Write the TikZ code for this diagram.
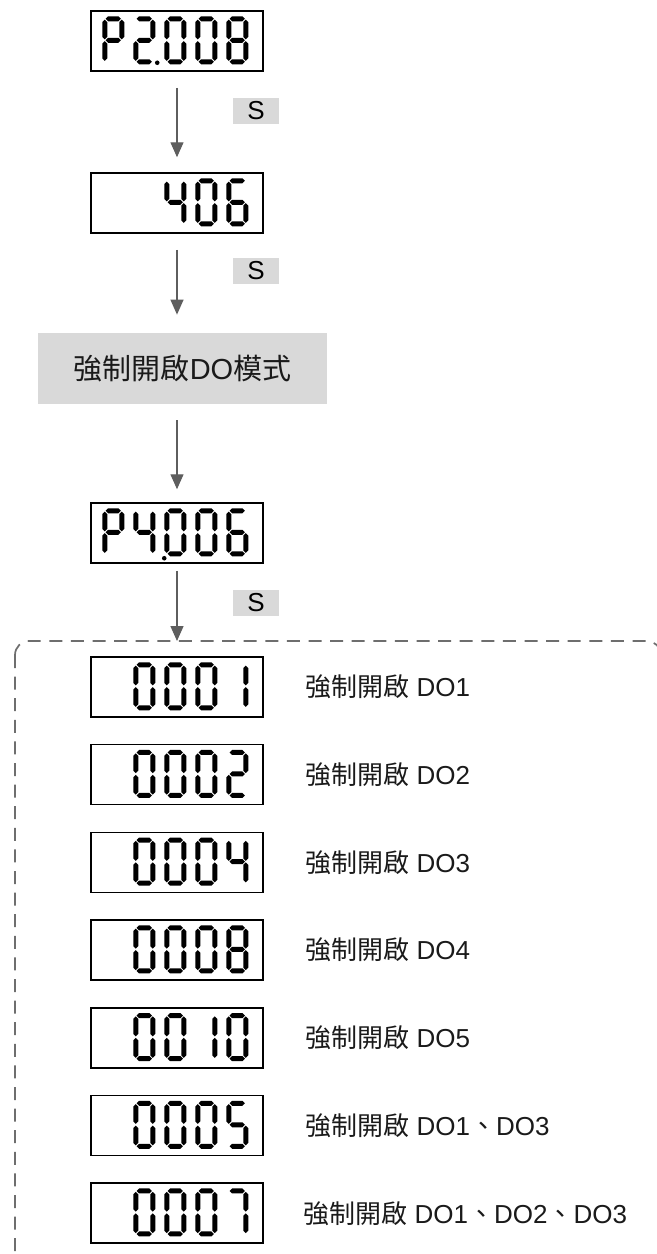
\documentclass[tikz,border=0pt]{standalone}
\usepackage{fontspec}
\setmainfont{Liberation Sans}
\newfontfamily\cjk{Noto Sans CJK TC}
\usetikzlibrary{arrows.meta,calc}
\definecolor{boxgray}{HTML}{D9D9D9}
\definecolor{arrowgray}{HTML}{5E5E5E}
\definecolor{framegray}{HTML}{6E6E6E}
\definecolor{txt}{HTML}{1A1A1A}
% seven-segment pieces (local px coords, y down)
\newcommand\SGa{\fill (3.3,2.5) -- (5.8,0) -- (16.2,0) -- (18.7,2.5) -- (16.2,5) -- (5.8,5) -- cycle;}
\newcommand\SGg{\fill (3.3,24) -- (5.8,21.5) -- (16.2,21.5) -- (18.7,24) -- (16.2,26.5) -- (5.8,26.5) -- cycle;}
\newcommand\SGd{\fill (3.3,45.5) -- (5.8,43) -- (16.2,43) -- (18.7,45.5) -- (16.2,48) -- (5.8,48) -- cycle;}
\newcommand\SGf{\fill (2.5,3.3) -- (5,5.8) -- (5,20.7) -- (2.5,23.2) -- (0,20.7) -- (0,5.8) -- cycle;}
\newcommand\SGb{\fill (19.5,3.3) -- (22,5.8) -- (22,20.7) -- (19.5,23.2) -- (17,20.7) -- (17,5.8) -- cycle;}
\newcommand\SGe{\fill (2.5,24.8) -- (5,27.3) -- (5,42.2) -- (2.5,44.7) -- (0,42.2) -- (0,27.3) -- cycle;}
\newcommand\SGc{\fill (19.5,24.8) -- (22,27.3) -- (22,42.2) -- (19.5,44.7) -- (17,42.2) -- (17,27.3) -- cycle;}
\expandafter\def\csname DL0\endcsname{a,b,c,d,e,f}
\expandafter\def\csname DL1\endcsname{b,c}
\expandafter\def\csname DL2\endcsname{a,b,g,e,d}
\expandafter\def\csname DL4\endcsname{f,g,b,c}
\expandafter\def\csname DL5\endcsname{a,f,g,c,d}
\expandafter\def\csname DL6\endcsname{a,f,g,e,d,c}
\expandafter\def\csname DL7\endcsname{a,b,c}
\expandafter\def\csname DL8\endcsname{a,b,c,d,e,f,g}
\expandafter\def\csname DLP\endcsname{a,b,f,g,e}
\newcommand\dig[3]{%
  \edef\seglist{\csname DL#3\endcsname}%
  \begin{scope}[shift={($(#1.north west)+({12+31*#2},6)$)}]
    \foreach \s in \seglist {\csname SG\s\endcsname}
  \end{scope}}
\newcommand\dpt[3]{\fill ($(#1.north west)+(#2,#3)$) circle [radius=2.3];}
\tikzset{
  disp/.style={draw=black, line width=0.75pt, minimum width=86pt, minimum height=30pt, inner sep=0pt, fill=white},
  skey/.style={fill=boxgray, minimum width=23pt, minimum height=13pt, inner sep=0pt, font=\fontsize{13}{14}\selectfont},
  modebox/.style={fill=boxgray, minimum width=144.5pt, minimum height=35.5pt, inner sep=0pt, text=txt, font=\fontsize{14.5}{17}\selectfont},
  lbl/.style={anchor=west, inner sep=0pt, text=txt, font=\fontsize{13}{15}\selectfont},
  arr/.style={draw=arrowgray, line width=0.65pt, -{Triangle[width=6.5pt,length=7.5pt]}},
  frame/.style={draw=framegray, line width=0.85pt, dash pattern=on 6.5pt off 4.3pt, rounded corners=7pt}
}
\begin{document}
\begin{tikzpicture}[x=0.5pt, y=-0.5pt]
\useasboundingbox (0,0) rectangle (657,1254);
\clip (0,0) rectangle (657,1254);
% top displays
\node[disp] (d1) at (177,41) {};
\dig{d1}{0}{P}\dig{d1}{1}{2}\dig{d1}{2}{0}\dig{d1}{3}{0}\dig{d1}{4}{8}
\dpt{d1}{67}{52.5}
\node[disp] (d2) at (177,203) {};
\dig{d2}{2}{4}\dig{d2}{3}{0}\dig{d2}{4}{6}
\node[modebox] (mode) at (182.5,368.5) {{\cjk 強制開啟}DO{\cjk 模式}};
\node[disp] (d3) at (177,533) {};
\dig{d3}{0}{P}\dig{d3}{1}{4}\dig{d3}{2}{0}\dig{d3}{3}{0}\dig{d3}{4}{6}
\dpt{d3}{74}{56}
% S keys
\node[skey] (s1) at (256,111) {S};
\node[skey] (s2) at (256,271) {S};
\node[skey] (s3) at (256,603) {S};
% frame
\coordinate (ftop) at (177,641);
\draw[frame] (15,641) rectangle (661,1266);
% arrows
\draw[arr, shorten <=8pt, shorten >=7.5pt] (d1.south) -- (d2.north);
\draw[arr, shorten <=8pt, shorten >=9pt] (d2.south) -- (d2.south |- mode.north);
\draw[arr, shorten <=8pt, shorten >=6.5pt] (d2.south |- mode.south) -- (d3.north);
\draw[arr, shorten <=3.5pt] (d3.south) -- (ftop);
% rows
\node[disp] (r1) at (177,687) {};
\dig{r1}{1}{0}\dig{r1}{2}{0}\dig{r1}{3}{0}\dig{r1}{4}{1}
\node[lbl] (t1) at (305,687) {{\cjk 強制開啟} DO1};
\node[disp] (r2) at (177,774.7) {};
\dig{r2}{1}{0}\dig{r2}{2}{0}\dig{r2}{3}{0}\dig{r2}{4}{2}
\node[lbl] (t2) at (305,774.7) {{\cjk 強制開啟} DO2};
\node[disp] (r3) at (177,862.4) {};
\dig{r3}{1}{0}\dig{r3}{2}{0}\dig{r3}{3}{0}\dig{r3}{4}{4}
\node[lbl] (t3) at (305,862.4) {{\cjk 強制開啟} DO3};
\node[disp] (r4) at (177,950.1) {};
\dig{r4}{1}{0}\dig{r4}{2}{0}\dig{r4}{3}{0}\dig{r4}{4}{8}
\node[lbl] (t4) at (305,950.1) {{\cjk 強制開啟} DO4};
\node[disp] (r5) at (177,1037.8) {};
\dig{r5}{1}{0}\dig{r5}{2}{0}\dig{r5}{3}{1}\dig{r5}{4}{0}
\node[lbl] (t5) at (305,1037.8) {{\cjk 強制開啟} DO5};
\node[disp] (r6) at (177,1125.5) {};
\dig{r6}{1}{0}\dig{r6}{2}{0}\dig{r6}{3}{0}\dig{r6}{4}{5}
\node[lbl] (t6) at (305,1125.5) {{\cjk 強制開啟} DO1{\cjk 、}DO3};
\node[disp] (r7) at (177,1213.2) {};
\dig{r7}{1}{0}\dig{r7}{2}{0}\dig{r7}{3}{0}\dig{r7}{4}{7}
\node[lbl] (t7) at (303,1213.2) {{\cjk 強制開啟} DO1{\cjk 、}DO2{\cjk 、}DO3};
\end{tikzpicture}
\end{document}
